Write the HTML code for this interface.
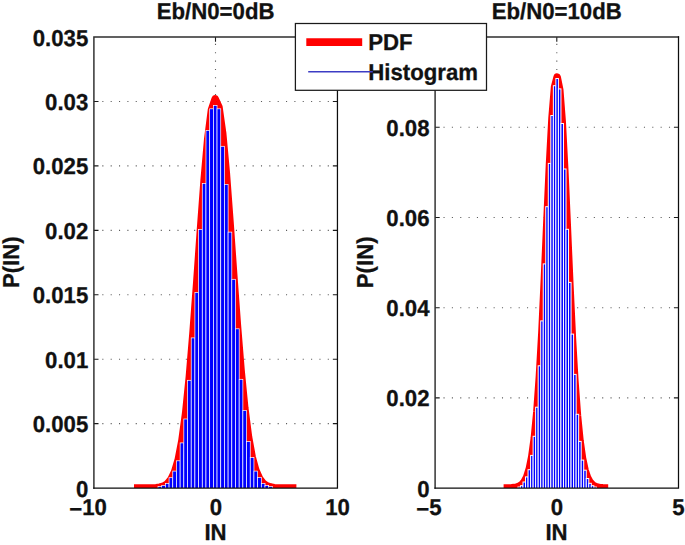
<!DOCTYPE html>
<html><head><meta charset="utf-8"><title>chart</title>
<style>text{stroke:#111;stroke-width:0.3px;stroke-linejoin:round}html,body{margin:0;padding:0;background:#fff;overflow:hidden;}svg{display:block;font-family:"Liberation Sans",sans-serif;}</style></head>
<body>
<svg width="685" height="545" viewBox="0 0 685 545" font-family="&quot;Liberation Sans&quot;, sans-serif" font-weight="bold" fill="#111" text-rendering="geometricPrecision">
<rect width="685" height="545" fill="#fff"/>
<line x1="102.30" y1="423.66" x2="333.45" y2="423.66" stroke="#5c5c5c" stroke-width="1.1" stroke-dasharray="1.1 7.25"/>
<line x1="102.30" y1="359.23" x2="333.45" y2="359.23" stroke="#5c5c5c" stroke-width="1.1" stroke-dasharray="1.1 7.25"/>
<line x1="102.30" y1="294.79" x2="333.45" y2="294.79" stroke="#5c5c5c" stroke-width="1.1" stroke-dasharray="1.1 7.25"/>
<line x1="102.30" y1="230.36" x2="333.45" y2="230.36" stroke="#5c5c5c" stroke-width="1.1" stroke-dasharray="1.1 7.25"/>
<line x1="102.30" y1="165.92" x2="333.45" y2="165.92" stroke="#5c5c5c" stroke-width="1.1" stroke-dasharray="1.1 7.25"/>
<line x1="102.30" y1="101.49" x2="333.45" y2="101.49" stroke="#5c5c5c" stroke-width="1.1" stroke-dasharray="1.1 7.25"/>
<line x1="215.50" y1="43.85" x2="215.50" y2="484.10" stroke="#5c5c5c" stroke-width="1.1" stroke-dasharray="1.1 7.25"/>
<path d="M93.90 423.66h4.6M337.45 423.66h-4.6M93.90 359.23h4.6M337.45 359.23h-4.6M93.90 294.79h4.6M337.45 294.79h-4.6M93.90 230.36h4.6M337.45 230.36h-4.6M93.90 165.92h4.6M337.45 165.92h-4.6M93.90 101.49h4.6M337.45 101.49h-4.6M215.50 488.10v-4.6M215.50 37.05v4.6" fill="none" stroke="#1a1a1a" stroke-width="1.1"/>
<clipPath id="cl"><rect x="93.90" y="37.05" width="243.55" height="451.05"/></clipPath>
<polyline clip-path="url(#cl)" points="134.00,488.10 134.02,488.10 137.71,488.10 141.40,488.10 145.09,488.09 148.78,488.05 152.47,487.97 156.16,487.76 159.85,487.25 163.54,486.14 167.23,483.88 170.92,479.59 174.61,472.03 178.30,459.60 181.99,440.54 185.68,413.33 189.37,377.19 193.06,332.88 196.75,283.24 200.44,230.85 204.13,180.72 207.82,138.64 211.51,110.06 215.20,98.97 218.89,106.99 222.58,132.94 226.27,173.18 229.96,222.40 233.65,274.80 237.34,325.17 241.03,370.48 244.72,408.07 248.41,436.70 252.10,456.99 255.79,470.39 259.48,478.62 263.17,483.35 266.86,485.87 270.55,487.12 274.24,487.70 277.93,487.95 281.62,488.05 285.31,488.08 289.00,488.09 292.69,488.10 296.38,488.10 296.40,488.10" fill="none" stroke="#ff0000" stroke-width="7.6" stroke-linejoin="round"/>
<g clip-path="url(#cl)" fill="#0000ff" stroke="#ffffff" stroke-width="0.7"><rect x="158.00" y="486.50" width="3.69" height="3.60"/><rect x="161.69" y="485.50" width="3.69" height="4.60"/><rect x="165.38" y="483.40" width="3.69" height="6.70"/><rect x="169.07" y="477.70" width="3.69" height="12.40"/><rect x="172.76" y="471.10" width="3.69" height="19.00"/><rect x="176.45" y="460.80" width="3.69" height="29.30"/><rect x="180.14" y="442.90" width="3.69" height="47.20"/><rect x="183.83" y="419.00" width="3.69" height="71.10"/><rect x="187.53" y="380.30" width="3.69" height="109.80"/><rect x="191.22" y="337.90" width="3.69" height="152.20"/><rect x="194.91" y="292.50" width="3.69" height="197.60"/><rect x="198.59" y="229.50" width="3.69" height="260.60"/><rect x="202.28" y="183.50" width="3.69" height="306.60"/><rect x="205.97" y="130.40" width="3.69" height="359.70"/><rect x="209.66" y="108.80" width="3.69" height="381.30"/><rect x="213.35" y="105.40" width="3.69" height="384.70"/><rect x="217.04" y="108.80" width="3.69" height="381.30"/><rect x="220.73" y="146.30" width="3.69" height="343.80"/><rect x="224.42" y="184.40" width="3.69" height="305.70"/><rect x="228.11" y="232.10" width="3.69" height="258.00"/><rect x="231.80" y="279.30" width="3.69" height="210.80"/><rect x="235.49" y="328.80" width="3.69" height="161.30"/><rect x="239.18" y="379.30" width="3.69" height="110.80"/><rect x="242.88" y="410.60" width="3.69" height="79.50"/><rect x="246.56" y="441.60" width="3.69" height="48.50"/><rect x="250.25" y="457.60" width="3.69" height="32.50"/><rect x="253.94" y="471.10" width="3.69" height="19.00"/><rect x="257.63" y="477.50" width="3.69" height="12.60"/><rect x="261.32" y="483.40" width="3.69" height="6.70"/><rect x="265.01" y="485.50" width="3.69" height="4.60"/><rect x="268.70" y="486.50" width="3.69" height="3.60"/></g>
<path d="M93.90 488.70V37.05H338.05" fill="none" stroke="#2e2e2e" stroke-width="1.45"/>
<path d="M93.20 488.10H337.45V36.35" fill="none" stroke="#0d0d0d" stroke-width="1.25"/>
<text transform="translate(88.30,496.60) scale(0.965,1)" font-size="23.0" text-anchor="end">0</text>
<text transform="translate(88.30,432.16) scale(0.965,1)" font-size="23.0" text-anchor="end">0.005</text>
<text transform="translate(88.30,367.73) scale(0.965,1)" font-size="23.0" text-anchor="end">0.01</text>
<text transform="translate(88.30,303.29) scale(0.965,1)" font-size="23.0" text-anchor="end">0.015</text>
<text transform="translate(88.30,238.86) scale(0.965,1)" font-size="23.0" text-anchor="end">0.02</text>
<text transform="translate(88.30,174.42) scale(0.965,1)" font-size="23.0" text-anchor="end">0.025</text>
<text transform="translate(88.30,109.99) scale(0.965,1)" font-size="23.0" text-anchor="end">0.03</text>
<text transform="translate(88.30,45.55) scale(0.965,1)" font-size="23.0" text-anchor="end">0.035</text>
<text transform="translate(88.00,515.20) scale(0.965,1)" font-size="23.0" text-anchor="middle"><tspan dy="1.5">−</tspan><tspan dy="-1.5">10</tspan></text>
<text transform="translate(215.80,515.20) scale(0.965,1)" font-size="23.0" text-anchor="middle">0</text>
<text transform="translate(337.60,515.20) scale(0.965,1)" font-size="23.0" text-anchor="middle">10</text>
<text transform="translate(215.50,540.00) scale(0.965,1)" font-size="23.0" text-anchor="middle">IN</text>
<text transform="translate(215.60,18.80) scale(0.965,1)" font-size="23.0" text-anchor="middle">Eb/N0=0dB</text>
<text transform="translate(19.40,262.20) rotate(-90) scale(0.965,1)" font-size="23.0" text-anchor="middle">P(IN)</text>
<line x1="443.50" y1="397.89" x2="674.50" y2="397.89" stroke="#5c5c5c" stroke-width="1.1" stroke-dasharray="1.1 7.25"/>
<line x1="443.50" y1="307.68" x2="674.50" y2="307.68" stroke="#5c5c5c" stroke-width="1.1" stroke-dasharray="1.1 7.25"/>
<line x1="443.50" y1="217.47" x2="674.50" y2="217.47" stroke="#5c5c5c" stroke-width="1.1" stroke-dasharray="1.1 7.25"/>
<line x1="443.50" y1="127.26" x2="674.50" y2="127.26" stroke="#5c5c5c" stroke-width="1.1" stroke-dasharray="1.1 7.25"/>
<line x1="556.80" y1="43.85" x2="556.80" y2="484.10" stroke="#5c5c5c" stroke-width="1.1" stroke-dasharray="1.1 7.25"/>
<path d="M435.10 397.89h4.6M678.50 397.89h-4.6M435.10 307.68h4.6M678.50 307.68h-4.6M435.10 217.47h4.6M678.50 217.47h-4.6M435.10 127.26h4.6M678.50 127.26h-4.6M556.80 488.10v-4.6M556.80 37.05v4.6" fill="none" stroke="#1a1a1a" stroke-width="1.1"/>
<clipPath id="cr"><rect x="435.10" y="37.05" width="243.40" height="451.05"/></clipPath>
<polyline clip-path="url(#cr)" points="503.60,488.08 504.02,488.08 506.55,488.05 509.08,487.99 511.61,487.88 514.14,487.64 516.67,487.17 519.20,486.28 521.73,484.66 524.26,481.79 526.79,476.91 529.32,468.96 531.85,456.54 534.38,438.02 536.91,411.77 539.44,376.57 541.97,332.08 544.50,277.79 547.03,219.76 549.56,163.99 552.09,117.54 554.62,87.05 557.15,77.23 559.68,89.65 562.21,122.33 564.74,170.26 567.27,226.65 569.80,284.53 572.33,337.88 574.86,381.23 577.39,415.34 579.92,440.59 582.45,458.30 584.98,470.11 587.51,477.63 590.04,482.22 592.57,484.90 595.10,486.42 597.63,487.24 600.16,487.67 602.69,487.89 605.22,488.00 607.75,488.06 608.20,488.06" fill="none" stroke="#ff0000" stroke-width="7.6" stroke-linejoin="round"/>
<g clip-path="url(#cr)" fill="#0000ff" stroke="#ffffff" stroke-width="1.0"><rect x="517.93" y="487.00" width="2.53" height="3.10"/><rect x="520.47" y="485.70" width="2.53" height="4.40"/><rect x="523.00" y="482.00" width="2.53" height="8.10"/><rect x="525.52" y="476.90" width="2.53" height="13.20"/><rect x="528.05" y="469.70" width="2.53" height="20.40"/><rect x="530.59" y="455.40" width="2.53" height="34.70"/><rect x="533.12" y="436.30" width="2.53" height="53.80"/><rect x="535.64" y="407.20" width="2.53" height="82.90"/><rect x="538.17" y="365.80" width="2.53" height="124.30"/><rect x="540.71" y="320.90" width="2.53" height="169.20"/><rect x="543.24" y="263.90" width="2.53" height="226.20"/><rect x="545.76" y="206.70" width="2.53" height="283.40"/><rect x="548.29" y="163.40" width="2.53" height="326.70"/><rect x="550.83" y="115.50" width="2.53" height="374.60"/><rect x="553.36" y="85.70" width="2.53" height="404.40"/><rect x="555.88" y="78.50" width="2.53" height="411.60"/><rect x="558.41" y="88.90" width="2.53" height="401.20"/><rect x="560.94" y="123.50" width="2.53" height="366.60"/><rect x="563.48" y="169.00" width="2.53" height="321.10"/><rect x="566.00" y="229.30" width="2.53" height="260.80"/><rect x="568.53" y="282.40" width="2.53" height="207.70"/><rect x="571.06" y="334.10" width="2.53" height="156.00"/><rect x="573.60" y="374.40" width="2.53" height="115.70"/><rect x="576.12" y="414.30" width="2.53" height="75.80"/><rect x="578.65" y="441.40" width="2.53" height="48.70"/><rect x="581.18" y="460.10" width="2.53" height="30.00"/><rect x="583.72" y="470.20" width="2.53" height="19.90"/><rect x="586.25" y="478.50" width="2.53" height="11.60"/><rect x="588.77" y="483.30" width="2.53" height="6.80"/><rect x="591.30" y="485.70" width="2.53" height="4.40"/><rect x="593.84" y="487.00" width="2.53" height="3.10"/></g>
<path d="M435.10 488.70V37.05H679.10" fill="none" stroke="#2e2e2e" stroke-width="1.45"/>
<path d="M434.40 488.10H678.50V36.35" fill="none" stroke="#0d0d0d" stroke-width="1.25"/>
<text transform="translate(429.50,496.60) scale(0.965,1)" font-size="23.0" text-anchor="end">0</text>
<text transform="translate(429.50,406.39) scale(0.965,1)" font-size="23.0" text-anchor="end">0.02</text>
<text transform="translate(429.50,316.18) scale(0.965,1)" font-size="23.0" text-anchor="end">0.04</text>
<text transform="translate(429.50,225.97) scale(0.965,1)" font-size="23.0" text-anchor="end">0.06</text>
<text transform="translate(429.50,135.76) scale(0.965,1)" font-size="23.0" text-anchor="end">0.08</text>
<text transform="translate(428.90,515.20) scale(0.965,1)" font-size="23.0" text-anchor="middle"><tspan dy="1.5">−</tspan><tspan dy="-1.5">5</tspan></text>
<text transform="translate(556.90,515.20) scale(0.965,1)" font-size="23.0" text-anchor="middle">0</text>
<text transform="translate(678.40,515.20) scale(0.965,1)" font-size="23.0" text-anchor="middle">5</text>
<text transform="translate(556.50,540.00) scale(0.965,1)" font-size="23.0" text-anchor="middle">IN</text>
<text transform="translate(556.70,18.80) scale(0.965,1)" font-size="23.0" text-anchor="middle">Eb/N0=10dB</text>
<text transform="translate(372.50,262.30) rotate(-90) scale(0.965,1)" font-size="23.0" text-anchor="middle">P(IN)</text>
<rect x="295.4" y="23.5" width="191.1" height="66.8" fill="#fff" stroke="#1a1a1a" stroke-width="1.25"/>
<line x1="306.3" y1="42.1" x2="362.2" y2="42.1" stroke="#ff0000" stroke-width="7.6"/>
<text transform="translate(368.20,50.40) scale(0.965,1)" font-size="23.0" text-anchor="start">PDF</text>
<text transform="translate(368.20,79.90) scale(0.965,1)" font-size="23.0" text-anchor="start">Histogram</text>
<line x1="308.2" y1="71.7" x2="372.8" y2="71.7" stroke="#3c3cc4" stroke-width="1.4"/>
</svg>
</body></html>
